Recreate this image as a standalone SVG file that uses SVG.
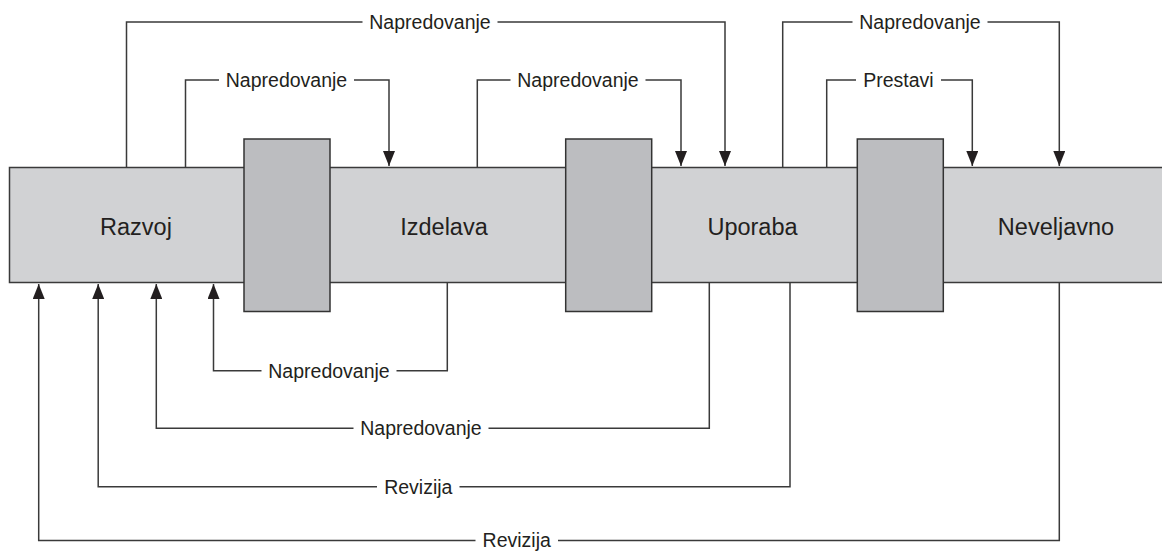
<svg xmlns="http://www.w3.org/2000/svg" width="1162" height="552" viewBox="0 0 1162 552">
<style>
.phase{fill:#d1d2d4;stroke:#3a3a3a;stroke-width:1.5}
.gate{fill:#bcbdc0;stroke:#333;stroke-width:1.5}
.ptxt{font-family:"Liberation Sans",Arial,sans-serif;font-size:23.5px;fill:#231f20;text-anchor:middle}
.ltxt{font-family:"Liberation Sans",Arial,sans-serif;font-size:19.5px;fill:#231f20;text-anchor:middle}
.c{fill:none;stroke:#3a3a3a;stroke-width:1.5}
</style>
<defs>
<marker id="ah" markerUnits="userSpaceOnUse" markerWidth="16" markerHeight="12" refX="15" refY="6" orient="auto">
<path d="M0,0 L15,6 L0,12 Z" fill="#231f20"/>
</marker>
</defs>
<rect width="1162" height="552" fill="#fff"/>
<g id="phase-razvoj"><rect class="phase" x="9.5" y="167.5" width="278" height="115"/><text class="ptxt" x="136" y="235">Razvoj</text></g>
<g id="phase-izdelava"><rect class="phase" x="287.5" y="167.5" width="321" height="115"/><text class="ptxt" x="444" y="235">Izdelava</text></g>
<g id="phase-uporaba"><rect class="phase" x="608.5" y="167.5" width="292" height="115"/><text class="ptxt" x="752.5" y="235">Uporaba</text></g>
<g id="phase-neveljavno"><rect class="phase" x="900.5" y="167.5" width="270" height="115"/><text class="ptxt" x="1056" y="235">Neveljavno</text></g>
<g id="gate-1"><rect class="gate" x="244" y="139" width="86" height="172.5"/></g>
<g id="gate-2"><rect class="gate" x="565.7" y="139" width="86" height="172.5"/></g>
<g id="gate-3"><rect class="gate" x="857.3" y="139" width="86" height="172.5"/></g>
<g id="connectors">
<path class="c" d="M126.5,167.5 V22 H362.5"/><path class="c" d="M497.5,22 H725 V166" marker-end="url(#ah)"/>
<text class="ltxt" x="430" y="29">Napredovanje</text>
<path class="c" d="M185.5,167.5 V80 H219"/><path class="c" d="M354,80 H389 V166" marker-end="url(#ah)"/>
<text class="ltxt" x="286.5" y="87">Napredovanje</text>
<path class="c" d="M477.3,167.5 V80 H510.5"/><path class="c" d="M645.5,80 H681 V166" marker-end="url(#ah)"/>
<text class="ltxt" x="578" y="87">Napredovanje</text>
<path class="c" d="M782.7,167.5 V22 H852.5"/><path class="c" d="M987.5,22 H1059.3 V166" marker-end="url(#ah)"/>
<text class="ltxt" x="920" y="29">Napredovanje</text>
<path class="c" d="M826.7,167.5 V80 H856"/><path class="c" d="M941,80 H972.3 V166" marker-end="url(#ah)"/>
<text class="ltxt" x="898.5" y="87">Prestavi</text>
<path class="c" d="M447.3,282.5 V370.7 H396.5"/><path class="c" d="M261.5,370.7 H213.5 V284" marker-end="url(#ah)"/>
<text class="ltxt" x="329" y="377.7">Napredovanje</text>
<path class="c" d="M709.3,282.5 V428.3 H488.5"/><path class="c" d="M353.5,428.3 H156.3 V284" marker-end="url(#ah)"/>
<text class="ltxt" x="421" y="435.3">Napredovanje</text>
<path class="c" d="M790,282.5 V486.7 H459.5"/><path class="c" d="M377,486.7 H98.2 V284" marker-end="url(#ah)"/>
<text class="ltxt" x="418.3" y="493.7">Revizija</text>
<path class="c" d="M1059.3,282.5 V540.5 H558"/><path class="c" d="M475.5,540.5 H38.7 V284" marker-end="url(#ah)"/>
<text class="ltxt" x="516.7" y="547">Revizija</text>
</g>
</svg>
